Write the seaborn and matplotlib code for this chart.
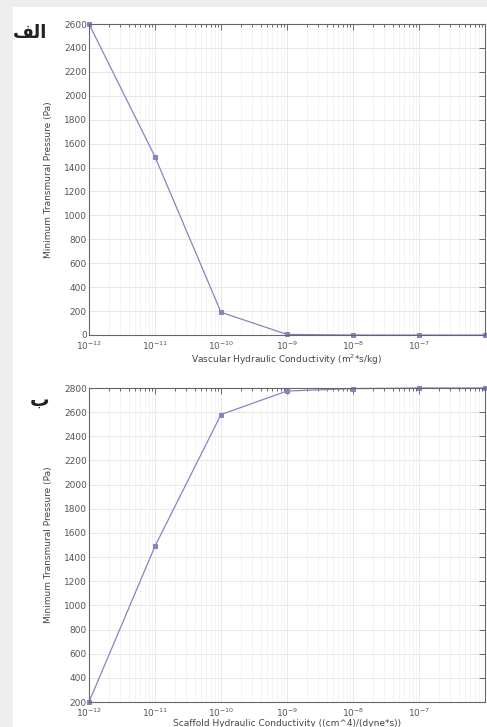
import numpy as np
import pandas as pd
import matplotlib
matplotlib.use("Agg")
import matplotlib.pyplot as plt
import seaborn as sns
from matplotlib.patches import Rectangle
from matplotlib.ticker import LogLocator, MultipleLocator

# conductivity sweep (log spaced) and resulting minimum transmural pressure
conductivity = [1e-12, 1e-11, 1e-10, 1e-9, 1e-8, 1e-7, 1e-6]
pressure_vascular = [2600, 1490, 190, 5, 0, 0, 0]
pressure_scaffold = [200, 1490, 2580, 2775, 2795, 2800, 2800]

ylabel = "Minimum Transmural Pressure (Pa)"
xlabel_top = "Vascular Hydraulic Conductivity (m$^2$*s/kg)"
xlabel_bottom = "Scaffold Hydraulic Conductivity ((cm^4)/(dyne*s))"
# Persian panel labels, written in presentation forms so they show joined
label_top = "\ufed2\ufedf\ufe8d"   # الف
label_bottom = "\u0628"            # ب

sns.set_style("whitegrid")
plt.rcParams['font.family'] = ['DejaVu Sans']

line_color = '#8585c2'

fig = plt.figure(figsize=(4.87, 7.27), dpi=100)
fig.patch.set_facecolor('#eeeeee')
fig.patches.append(Rectangle((13 / 487, 0), 1, 1 - 7 / 727, transform=fig.transFigure,
                             facecolor='white', edgecolor='none', zorder=-1))

ax1 = fig.add_axes([89 / 487, 1 - 335 / 727, 396 / 487, 311 / 727])
ax2 = fig.add_axes([89 / 487, 1 - 702 / 727, 396 / 487, 314 / 727])

df1 = pd.DataFrame({"k": conductivity, "p": pressure_vascular})
df2 = pd.DataFrame({"k": conductivity, "p": pressure_scaffold})

panels = [
    (ax1, df1, xlabel_top, (0, 2600)),
    (ax2, df2, xlabel_bottom, (200, 2800)),
]

for ax, df, xl, ylim in panels:
    sns.lineplot(data=df, x="k", y="p", ax=ax, color=line_color, linewidth=0.9,
                 marker='s', markersize=3.5, markeredgecolor=line_color, clip_on=False)
    ax.set_xscale('log')
    ax.set_xlim(1e-12, 1e-6)
    ax.set_ylim(*ylim)
    ax.xaxis.set_major_locator(LogLocator(base=10, numticks=10))
    ax.xaxis.set_minor_locator(LogLocator(base=10, subs=np.arange(2, 10), numticks=20))
    ax.yaxis.set_major_locator(MultipleLocator(200))
    ax.grid(True, which='major', color='#e4e4e4', linewidth=0.6)
    ax.grid(True, which='minor', axis='x', color='#f0f0f0', linewidth=0.5)
    ax.tick_params(axis='both', which='both', direction='in', top=True, right=True,
                   labelsize=6.5, colors='#555555', width=0.6)
    ax.tick_params(axis='both', which='minor', length=2)
    ax.tick_params(axis='both', which='major', length=4)
    ax.tick_params(axis='x', pad=3.5)
    ax.tick_params(axis='y', pad=1.5)
    for s in ax.spines.values():
        s.set_color('#666666')
        s.set_linewidth(0.8)
    ax.set_xlabel(xl, fontsize=6.5, color='#444444', labelpad=0)
    ax.set_ylabel(ylabel, fontsize=6.5, color='#444444', labelpad=8)
    # last decade label sits beyond the cropped right edge in the original
    fig.canvas.draw()
    for lab in ax.get_xticklabels():
        if lab.get_position()[0] >= 1e-6 * 0.99:
            lab.set_visible(False)

fig.text(30 / 487, 1 - 33 / 727, label_top, fontsize=13, fontweight='bold',
         ha='center', va='center', color='#222222')
fig.text(40 / 487, 1 - 400 / 727, label_bottom, fontsize=14, fontweight='bold',
         ha='center', va='center', color='#222222')

fig.savefig("out.png", dpi=100, facecolor=fig.get_facecolor())
